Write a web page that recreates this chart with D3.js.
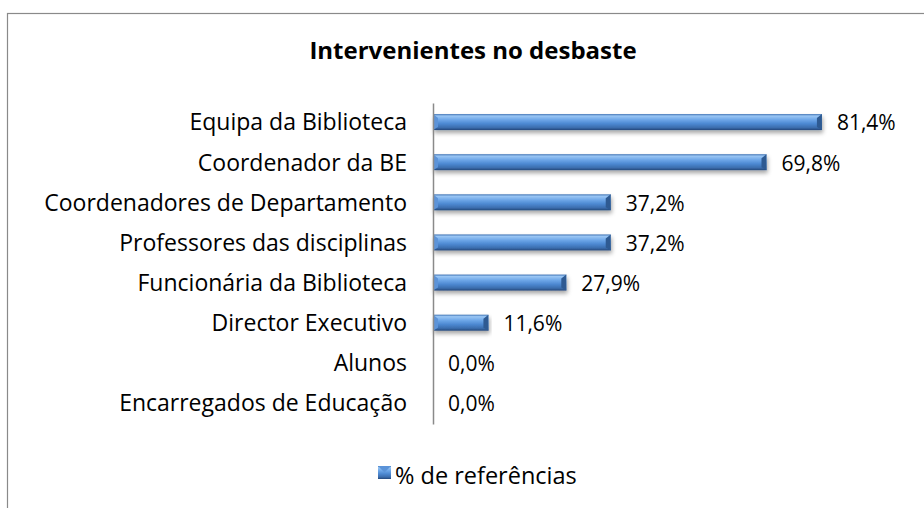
<!DOCTYPE html>
<html lang="pt">
<head>
  <meta charset="UTF-8">
  <title>Intervenientes no desbaste</title>
  <script src="https://d3js.org/d3.v7.min.js"></script>
  <style>
    html, body { margin: 0; padding: 0; background: #fff; }
    text { font-family: "Open Sans", sans-serif; fill: #000; }
  </style>
</head>
<body>
  <script>
    const width = 924;
    const height = 508;

    // data
    const categories = [
      "Equipa da Biblioteca ",
      "Coordenador da BE",
      "Coordenadores de Departamento",
      "Professores das disciplinas",
      "Funcionária da Biblioteca",
      "Director Executivo",
      "Alunos",
      "Encarregados de Educação"
    ];
    const values = [81.4, 69.8, 37.2, 37.2, 27.9, 11.6, 0.0, 0.0];
    const seriesName = "% de referências";
    const title = "Intervenientes no desbaste";

    const plot = { left: 433, top: 103, bottom: 424, right: 863 };
    const fmt = v => v.toFixed(1).replace(".", ",") + "%";

    const x = d3.scaleLinear().domain([0, 90]).range([plot.left, plot.right]);
    const y = d3.scaleBand().domain(categories).range([plot.top, plot.bottom]);

    const svg = d3.select("body").append("svg")
      .attr("width", width)
      .attr("height", height);

    const defs = svg.append("defs");
    const grad = defs.append("linearGradient")
      .attr("id", "barGrad")
      .attr("x1", 0).attr("y1", 0).attr("x2", 0).attr("y2", 1);
    [[0, "#3f72b3"], [0.12, "#9ac6f4"], [0.35, "#6ea7e8"], [0.6, "#4d89d2"],
     [0.85, "#3b6dad"], [1, "#24477a"]].forEach(([o, c]) =>
      grad.append("stop").attr("offset", o).attr("stop-color", c));

    const shadow = defs.append("filter").attr("id", "shadow")
      .attr("x", "-5%").attr("y", "-50%").attr("width", "110%").attr("height", "220%");
    shadow.append("feDropShadow")
      .attr("dx", 1).attr("dy", 3).attr("stdDeviation", 2)
      .attr("flood-color", "#000").attr("flood-opacity", 0.35);

    // chart border
    svg.append("rect")
      .attr("x", 7.5).attr("y", 13.5)
      .attr("width", 1000).attr("height", 1000)
      .attr("fill", "none").attr("stroke", "#8a8a8a").attr("stroke-width", 1.2);

    svg.append("text")
      .attr("x", 473).attr("y", 59)
      .attr("text-anchor", "middle")
      .style("font-size", "24px").style("font-weight", "bold")
      .text(title);

    const barH = 16;
    const rows = svg.append("g").selectAll("g")
      .data(categories.map((c, i) => ({ c, v: values[i] })))
      .join("g")
      .attr("transform", d => `translate(0,${y(d.c) + y.bandwidth() / 2})`);

    rows.filter(d => d.v > 0).each(function (d) {
      const g = d3.select(this);
      const x0 = x(0), x1 = x(d.v), top = -barH / 2 - 1;
      const bar = g.append("g").attr("filter", "url(#shadow)");
      bar.append("rect")
        .attr("x", x0).attr("y", top)
        .attr("width", x1 - x0).attr("height", barH)
        .attr("fill", "url(#barGrad)");
      // bevelled ends
      bar.append("polygon")
        .attr("points", [[x1 - 5, top + 4], [x1, top], [x1, top + barH], [x1 - 5, top + barH - 3]].join(" "))
        .attr("fill", "#2e5a92");
      bar.append("polygon")
        .attr("points", [[x0, top], [x0 + 5, top + 4], [x0 + 5, top + barH - 3], [x0, top + barH]].join(" "))
        .attr("fill", "#5b93d8");
    });

    rows.append("text")
      .attr("x", d => x(d.v) + 15)
      .attr("dy", "0.35em")
      .style("font-size", "21px")
      .text(d => fmt(d.v));

    const yAxis = svg.append("g")
      .attr("transform", `translate(${plot.left},0)`)
      .call(d3.axisLeft(y).tickSize(0).tickPadding(26));
    yAxis.select(".domain").attr("stroke", "#8a8a8a").attr("stroke-width", 1.5);
    yAxis.selectAll("text")
      .style("font-family", "'Open Sans', sans-serif")
      .style("font-size", "23px")
      .attr("fill", "#000");

    // legend
    const lg = svg.append("g").attr("transform", "translate(378,466)");
    lg.append("rect").attr("width", 13).attr("height", 13).attr("fill", "url(#barGrad)");
    lg.append("polygon").attr("points", "0,0 13,0 6.5,6.5").attr("fill", "#5b93d8");
    lg.append("text").attr("x", 17).attr("y", 18)
      .style("font-size", "23.5px")
      .text(seriesName);
  </script>
</body>
</html>
